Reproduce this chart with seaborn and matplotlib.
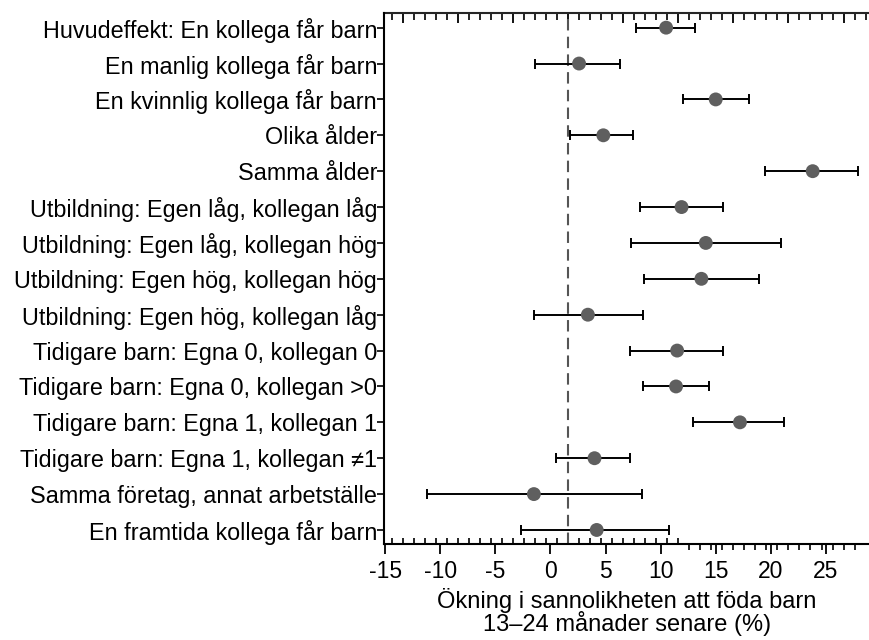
import seaborn as sns
import matplotlib.pyplot as plt
import matplotlib.ticker as mticker
import numpy as np
import pandas as pd

labels = [
    "Huvudeffekt: En kollega får barn",
    "En manlig kollega får barn",
    "En kvinnlig kollega får barn",
    "Olika ålder",
    "Samma ålder",
    "Utbildning: Egen låg, kollegan låg",
    "Utbildning: Egen låg, kollegan hög",
    "Utbildning: Egen hög, kollegan hög",
    "Utbildning: Egen hög, kollegan låg",
    "Tidigare barn: Egna 0, kollegan 0",
    "Tidigare barn: Egna 0, kollegan >0",
    "Tidigare barn: Egna 1, kollegan 1",
    "Tidigare barn: Egna 1, kollegan ≠1",
    "Samma företag, annat arbetställe",
    "En framtida kollega får barn",
]
estimate = [10.5, 2.6, 15.0, 4.8, 23.8, 11.9, 14.1, 13.7, 3.4, 11.5, 11.4, 17.2, 4.0, -1.5, 4.2]
ci_low = [7.8, -1.4, 12.0, 1.8, 19.5, 8.1, 7.3, 8.5, -1.5, 7.2, 8.4, 12.9, 0.5, -11.2, -2.7]
ci_high = [13.1, 6.3, 18.0, 7.5, 27.9, 15.7, 20.9, 18.9, 8.4, 15.7, 14.4, 21.2, 7.2, 8.3, 10.8]
reference = 1.6

df = pd.DataFrame({"label": labels, "est": estimate, "lo": ci_low, "hi": ci_high})

sns.set_theme(style="ticks")
plt.rcParams['font.family'] = ['Liberation Sans', 'DejaVu Sans']
plt.rcParams['axes.unicode_minus'] = False
plt.rcParams['text.color'] = 'black'
plt.rcParams['axes.labelcolor'] = 'black'
plt.rcParams['xtick.labelcolor'] = 'black'
plt.rcParams['ytick.labelcolor'] = 'black'

fig = plt.figure(figsize=(8.7, 6.4), dpi=100)
ax = fig.add_axes([0.4414, 0.1495, 0.5586, 0.8297])

pos = np.arange(len(df))
ax.axvline(reference, color="#555555", lw=1.5, ls=(0, (5.5, 3)), zorder=1)
ax.errorbar(df["est"], pos,
            xerr=[df["est"] - df["lo"], df["hi"] - df["est"]],
            fmt="none", ecolor="black", elinewidth=1.4, capsize=3.3, capthick=1.4, zorder=2)
sns.scatterplot(data=df, x="est", y="label", ax=ax, color="#5f5f5f", s=100,
                edgecolor="none", zorder=3)

ax.set_xlim(-15.1, 29)
ax.set_ylim(len(df) - 0.6, -0.4)
ax.set_ylabel("")
ax.set_xlabel("Ökning i sannolikheten att föda barn\n13–24 månader senare (%)",
              fontsize=17, linespacing=0.88, labelpad=4)

ax.xaxis.set_major_locator(mticker.MultipleLocator(5))
ax.xaxis.set_minor_locator(mticker.FixedLocator(np.arange(reference - 16, 11.7, 1)))
ax.tick_params(axis="x", which="major", direction="out", length=7, width=1.3,
               labelsize=16.5, pad=4, color="black")
ax.tick_params(axis="x", which="minor", direction="in", length=4, width=1.2, color="black")
ax.tick_params(axis="y", which="major", direction="out", length=5, width=1.2,
               labelsize=16.8, pad=0, color="black")

# ticks on the right part of the bottom axis point outward
bot = ax.secondary_xaxis("bottom")
bot.set_xticks(np.arange(reference + 11, 28, 1))
bot.tick_params(direction="out", length=4, width=1.2, labelbottom=False, color="black")
bot.spines["bottom"].set_visible(False)

# top axis, ticks centred on the reference line
top = ax.secondary_xaxis("top")
top.xaxis.set_major_locator(mticker.FixedLocator(np.arange(reference - 15, 29, 5)))
top.xaxis.set_minor_locator(mticker.FixedLocator(np.arange(reference - 16, 29, 1)))
top.tick_params(which="major", direction="in", length=7, width=1.3, labeltop=False, color="black")
top.tick_params(which="minor", direction="in", length=5, width=1.2, color="black")
top.spines["top"].set_linewidth(1.5)

for side in ["left", "bottom"]:
    ax.spines[side].set_linewidth(1.5)
    ax.spines[side].set_color("black")
ax.spines["right"].set_visible(False)
ax.spines["top"].set_visible(False)

fig.savefig("out.png", dpi=100)
